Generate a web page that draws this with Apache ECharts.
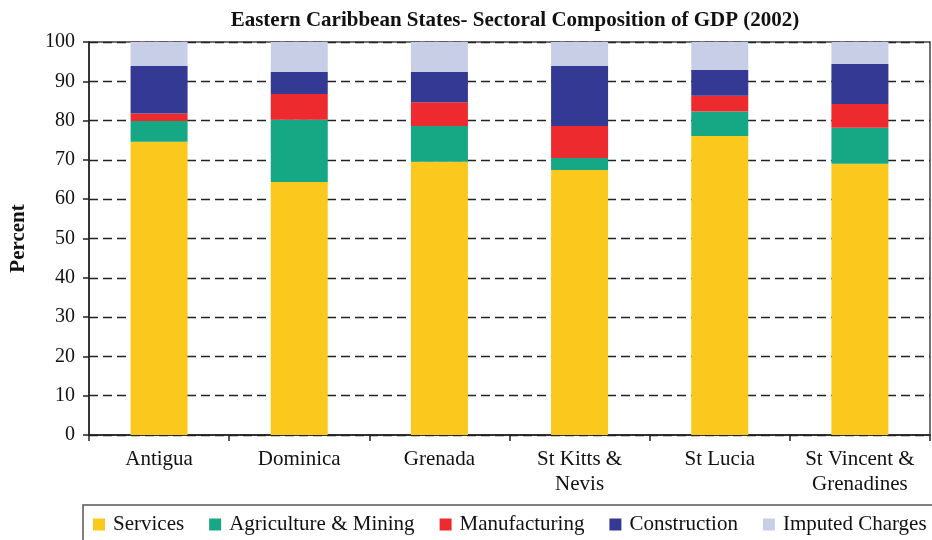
<!DOCTYPE html>
<html>
<head>
<meta charset="utf-8">
<script src="https://cdn.jsdelivr.net/npm/echarts@6/dist/echarts.min.js"></script>
<style>
html,body{margin:0;padding:0;background:#fff;}
#chart{width:932px;height:540px;}
</style>
</head>
<body>
<div id="chart"></div>
<script>
const categories = ['Antigua', 'Dominica', 'Grenada', 'St Kitts &\nNevis', 'St Lucia', 'St Vincent &\nGrenadines'];
const services = [74.6, 64.4, 69.5, 67.4, 76.1, 69.0];
const agriculture = [5.3, 15.8, 9.1, 3.1, 6.2, 9.2];
const manufacturing = [1.9, 6.6, 6.1, 8.1, 4.0, 6.0];
const construction = [12.1, 5.6, 7.7, 15.3, 6.6, 10.2];
const imputed = [6.1, 7.6, 7.6, 6.1, 7.1, 5.6];

const FONT = '"Liberation Serif", "Times New Roman", serif';
const chart = echarts.init(document.getElementById('chart'));

function mk(name, data, color) {
  return { name, type: 'bar', stack: 'total', data, barWidth: 57,
    itemStyle: { color }, emphasis: { disabled: true } };
}

chart.setOption({
  animation: false,
  textStyle: { fontFamily: FONT },
  title: {
    text: 'Eastern Caribbean States- Sectoral Composition of GDP (2002)',
    left: 510, textAlign: 'center', top: 5,
    textStyle: { fontFamily: FONT, fontWeight: 'bold', fontSize: 21, color: '#111' }
  },
  grid: { left: 88, right: 2, top: 42, bottom: 105, show: true, borderColor: '#444', borderWidth: 1.5, backgroundColor: 'transparent' },
  legend: {
    left: 83, top: 505, width: 1000,
    padding: [9, 10, 12, 10],
    borderColor: '#555', borderWidth: 1.5,
    itemWidth: 12, itemHeight: 12, itemGap: 25,
    icon: 'rect',
    textStyle: { fontFamily: FONT, fontSize: 21, color: '#111', padding: [0, 0, 0, 3] },
    data: ['Services', 'Agriculture & Mining', 'Manufacturing', 'Construction', 'Imputed Charges']
  },
  xAxis: {
    type: 'category', data: categories,
    axisLine: { lineStyle: { color: '#222', width: 1.5 } },
    axisTick: { show: true, length: 6, lineStyle: { color: '#222', width: 1.5 } },
    axisLabel: { fontFamily: FONT, fontSize: 21, color: '#111', margin: 12, lineHeight: 25, interval: 0 }
  },
  yAxis: {
    type: 'value', min: 0, max: 100, interval: 10,
    name: 'Percent', nameLocation: 'middle', nameGap: 60,
    nameTextStyle: { fontFamily: FONT, fontWeight: 'bold', fontSize: 21, color: '#111' },
    axisLine: { show: true, lineStyle: { color: '#222', width: 1.5 } },
    axisTick: { show: true, length: 6, lineStyle: { color: '#222', width: 1.5 } },
    axisLabel: { fontFamily: FONT, fontSize: 20, color: '#111', margin: 14 },
    splitLine: { show: true, lineStyle: { color: '#222', width: 1.3, type: [9, 5] } }
  },
  series: [
    mk('Services', services, '#FBC91E'),
    mk('Agriculture & Mining', agriculture, '#16A785'),
    mk('Manufacturing', manufacturing, '#ED2A2E'),
    mk('Construction', construction, '#343A93'),
    mk('Imputed Charges', imputed, '#C8CEE6')
  ]
});
</script>
</body>
</html>
